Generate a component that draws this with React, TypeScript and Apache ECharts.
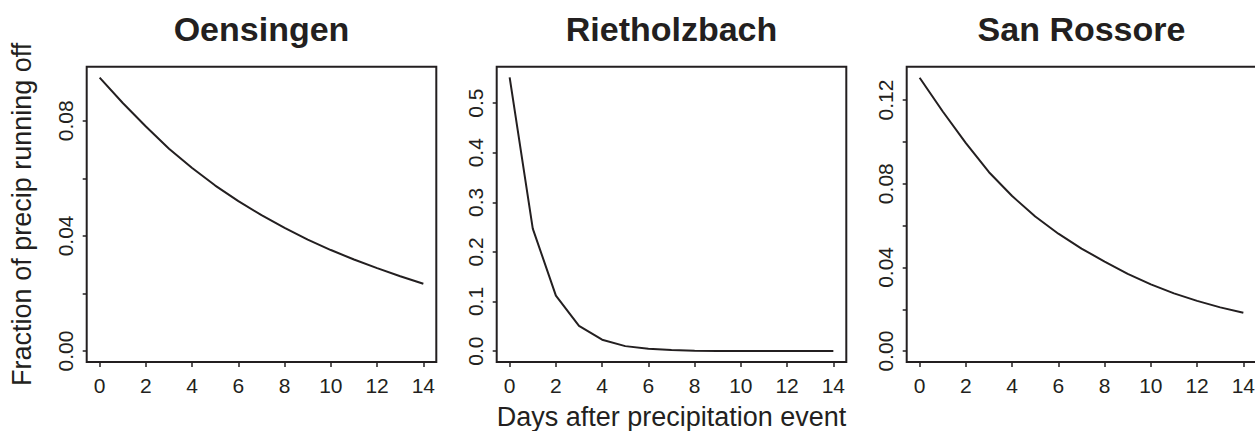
import React, { useEffect, useRef } from "react";
import * as echarts from "echarts";

const days = [0, 1, 2, 3, 4, 5, 6, 7, 8, 9, 10, 11, 12, 13, 14];
const panelTitles = ["Oensingen", "Rietholzbach", "San Rossore"];
const oensingen = [0.095, 0.0862, 0.078, 0.0703, 0.0636, 0.0575, 0.0521, 0.0472, 0.0428, 0.0387, 0.0351, 0.0318, 0.0288, 0.026, 0.0234];
const rietholzbach = [0.552, 0.247, 0.112, 0.051, 0.023, 0.01, 0.0045, 0.002, 0.0009, 0.0004, 0.0002, 0.0001, 0.00004, 0.00002, 0.00001];
const sanRossore = [0.1306, 0.1145, 0.0994, 0.0855, 0.0741, 0.0643, 0.0561, 0.049, 0.0428, 0.0369, 0.0319, 0.0276, 0.024, 0.0209, 0.0183];
const xTicks = [0, 2, 4, 6, 8, 10, 12, 14];
const yTicks1 = [0, 0.02, 0.04, 0.06, 0.08];
const yLabels1 = [0, 0.04, 0.08];
const yTicks2 = [0, 0.1, 0.2, 0.3, 0.4, 0.5];
const yTicks3 = [0, 0.02, 0.04, 0.06, 0.08, 0.1, 0.12];
const yLabels3 = [0, 0.04, 0.08, 0.12];
const yTitle = "Fraction of precip running off";
const xTitle = "Days after precipitation event";

const INK = "#231f20";
const FONT = "'Liberation Sans', Arial, Helvetica, sans-serif";
const LABEL_SIZE = 21;

export default function App() {
  const ref = useRef<HTMLDivElement>(null);
  useEffect(() => {
    if (!ref.current) return;
    const chart = echarts.init(ref.current, undefined, { renderer: "svg" });
    const lefts = [86.7, 496.7, 906.7];
    const gridW = 349.6;
    const gridTop = 66.7;
    const gridH = 295.3;
    const series = [oensingen, rietholzbach, sanRossore];
    const yCfg = [
      { min: -0.0038, max: 0.0988, ticks: yTicks1, labels: yLabels1, dec: 2 },
      { min: -0.022, max: 0.5735, ticks: yTicks2, labels: yTicks2, dec: 1 },
      { min: -0.0052, max: 0.1359, ticks: yTicks3, labels: yLabels3, dec: 2 },
    ];
    const rich = { a: { fontSize: LABEL_SIZE, fontFamily: FONT, color: INK, lineHeight: LABEL_SIZE } };
    const option: any = {
      animation: false,
      backgroundColor: "#ffffff",
      grid: lefts.map((l) => ({
        left: l,
        top: gridTop,
        width: gridW,
        height: gridH,
        show: true,
        borderColor: INK,
        borderWidth: 2,
        backgroundColor: "transparent",
        containLabel: false,
        outerBoundsMode: "none",
      })),
      xAxis: lefts.map((_, i) => ({
        type: "value",
        gridIndex: i,
        min: -0.56,
        max: 14.56,
        axisLine: { show: false, onZero: false },
        splitLine: { show: false },
        axisTick: { show: true, length: 5, customValues: xTicks, lineStyle: { color: INK, width: 1.5 } },
        axisLabel: {
          customValues: xTicks,
          margin: 13,
          fontSize: LABEL_SIZE,
          lineHeight: LABEL_SIZE,
          color: INK,
          fontFamily: FONT,
          rich,
          formatter: (v: number) => "{a|" + String(Math.round(v)) + "}",
        },
      })),
      yAxis: yCfg.map((c, i) => ({
        type: "value",
        gridIndex: i,
        min: c.min,
        max: c.max,
        axisLine: { show: false, onZero: false },
        splitLine: { show: false },
        axisTick: { show: true, length: 4, customValues: c.ticks, lineStyle: { color: INK, width: 1.5 } },
        axisLabel: {
          customValues: c.labels,
          rotate: 90,
          margin: 11,
          fontSize: LABEL_SIZE,
          lineHeight: LABEL_SIZE,
          color: INK,
          fontFamily: FONT,
          rich,
          formatter: (v: number) => "{a|" + v.toFixed(c.dec) + "}",
        },
      })),
      series: series.map((vals, i) => ({
        type: "line",
        xAxisIndex: i,
        yAxisIndex: i,
        data: days.map((d, k) => [d, vals[k]]),
        showSymbol: false,
        symbol: "none",
        lineStyle: { color: INK, width: 2 },
        clip: false,
      })),
      graphic: [
        ...panelTitles.map((t, i) => ({
          type: "text",
          x: lefts[i] + gridW / 2,
          y: 29,
          style: {
            text: t,
            fill: INK,
            font: `bold 34px ${FONT}`,
            textAlign: "center",
            textVerticalAlign: "middle",
          },
        })),
        {
          type: "text",
          x: 21.6,
          y: 214.3,
          rotation: Math.PI / 2,
          style: {
            text: yTitle,
            fill: INK,
            font: `27px ${FONT}`,
            textAlign: "center",
            textVerticalAlign: "middle",
          },
        },
        {
          type: "text",
          x: 671.5,
          y: 417,
          style: {
            text: xTitle,
            fill: INK,
            font: `27px ${FONT}`,
            textAlign: "center",
            textVerticalAlign: "middle",
          },
        },
      ],
    };
    chart.setOption(option);
    return () => chart.dispose();
  }, []);
  return (
    <div
      ref={ref}
      style={{ position: "absolute", left: 0, top: 0, width: 1255, height: 431 }}
    />
  );
}
